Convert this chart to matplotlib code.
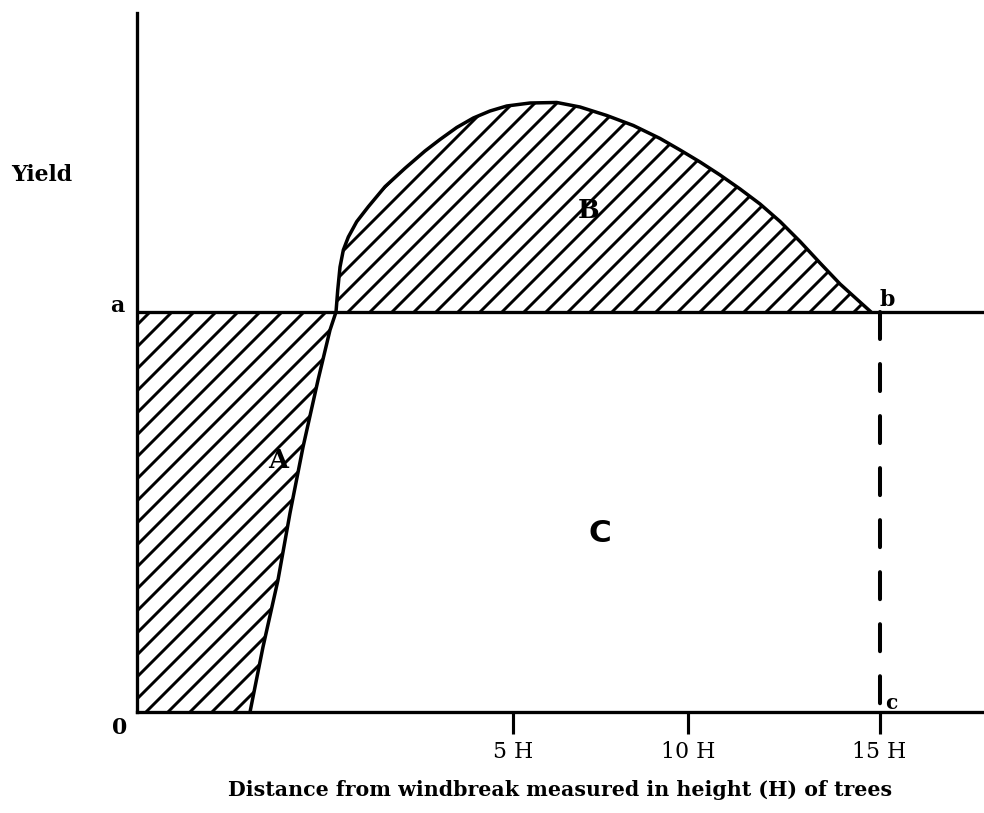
import matplotlib
matplotlib.use("Agg")
import matplotlib.pyplot as plt

# ---- data (x in tree heights H, yield relative to open-field level a = 1) ----
curve_x = [2.283, 2.545, 2.848, 3.091, 3.354, 3.657, 3.899, 4.020,
           4.055, 4.101, 4.168, 4.269, 4.438, 4.673, 5.010, 5.414, 5.818,
           6.121, 6.459, 6.794, 7.131, 7.469, 7.939, 8.479, 8.949, 9.489,
           10.026, 10.566, 10.970, 11.374, 11.778, 12.182, 12.586, 12.990,
           13.394, 13.798, 14.202, 14.525, 14.828]
curve_y = [0.0, 0.1625, 0.33, 0.4975, 0.6625, 0.83, 0.955, 1.0,
           1.055, 1.1125, 1.155, 1.1875, 1.2258, 1.2633, 1.3133, 1.3593, 1.4025,
           1.4313, 1.4613, 1.485, 1.5025, 1.515, 1.5225, 1.5238, 1.5125, 1.4913,
           1.4663, 1.4338, 1.405, 1.375, 1.3425, 1.3075, 1.27, 1.2263,
           1.1763, 1.1225, 1.07, 1.0338, 1.0]
level_a = 1.0
end_x = 15.0
tick_positions = [7.60, 11.13, 15.0]
tick_labels = ["5 H", "10 H", "15 H"]
x_max = 17.11
y_max = 1.7475

DPI = 132
W, H = 984, 813
plt.rcParams['hatch.color'] = 'black'
plt.rcParams['hatch.linewidth'] = 1.6

fig = plt.figure(figsize=(W / DPI, H / DPI), dpi=DPI)
fig.patch.set_facecolor('white')

def fx(px):
    return px / W

def fy(py):
    return 1 - py / H

left, right, top, bottom = 137, 984, 13, 712
ax = fig.add_axes([fx(left), fy(bottom), fx(right) - fx(left), fy(top) - fy(bottom)])
ax.set_xlim(0, x_max)
ax.set_ylim(0, y_max)
ax.set_facecolor('none')

for s in ['top', 'right']:
    ax.spines[s].set_visible(False)
for s in ['left', 'bottom']:
    ax.spines[s].set_linewidth(1.8)
    ax.spines[s].set_color('black')

# split curve at crossing with level a
idx = curve_y.index(level_a)
low_x, low_y = curve_x[:idx + 1], curve_y[:idx + 1]
up_x, up_y = curve_x[idx:], curve_y[idx:]

# hatched area A (between axis and curve, below a)
ax.fill([0] + low_x + [0], [0] + low_y + [level_a], facecolor='none',
        edgecolor='black', hatch='//', linewidth=0)
# hatched area B (above a)
ax.fill(up_x, up_y, facecolor='none', edgecolor='black', hatch='//', linewidth=0)

ax.plot(curve_x, curve_y, color='black', lw=1.9, solid_capstyle='round',
        solid_joinstyle='round')
ax.axhline(level_a, color='black', lw=1.8)
ax.plot([end_x, end_x], [level_a, 0], color='black', lw=2.2,
        dashes=(6.7, 6.2), dash_capstyle='round')

ax.set_yticks([])
ax.set_xticks(tick_positions)
ax.set_xticklabels(tick_labels, family='DejaVu Serif', fontsize=12)
ax.tick_params(axis='x', direction='out', length=12, width=1.7, pad=4, colors='black')

serif_b = dict(family='DejaVu Serif', fontweight='bold', color='black')
ax.text(2.85, 0.63, "A", ha='center', va='center', fontsize=14, **serif_b)
ax.text(9.12, 1.255, "B", ha='center', va='center', fontsize=14, **serif_b)
ax.text(9.36, 0.4475, "C", ha='center', va='center', fontsize=17,
        family='DejaVu Sans', fontweight='bold', color='black')

fig.text(fx(117), fy(306), "a", ha='center', va='center', fontsize=12, **serif_b)
fig.text(fx(887), fy(300), "b", ha='center', va='center', fontsize=12, **serif_b)
fig.text(fx(891), fy(703), "c", ha='center', va='center', fontsize=11, **serif_b)
fig.text(fx(120), fy(728), "0", ha='center', va='center', fontsize=12, **serif_b)
fig.text(fx(42), fy(175), "Yield", ha='center', va='center', fontsize=12, **serif_b)
fig.text(fx(560), fy(790), "Distance from windbreak measured in height (H) of trees",
         ha='center', va='center', fontsize=11.2, **serif_b)

fig.savefig("out.png", dpi=DPI, facecolor='white')
